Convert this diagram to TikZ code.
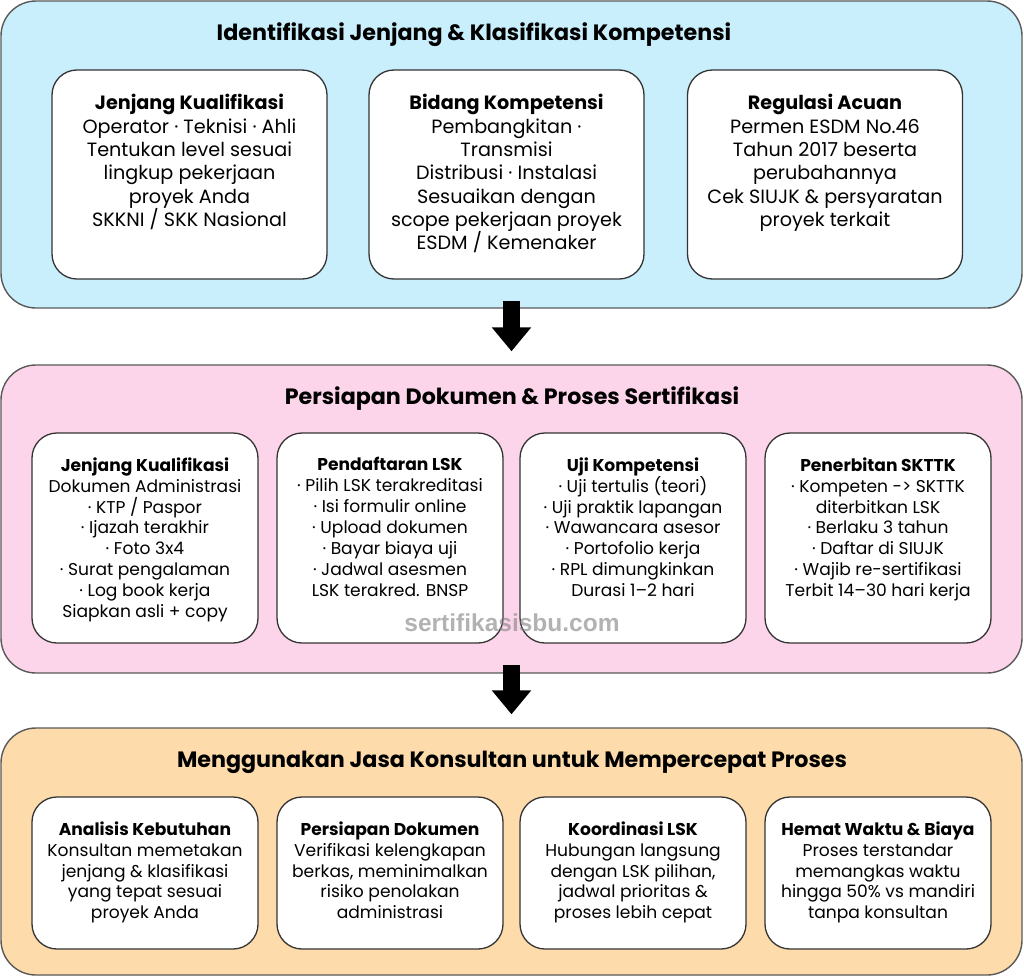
\documentclass[tikz,border=0pt]{standalone}
\usepackage{fontspec}
\setmainfont{Poppins}
\newfontfamily\wmfont{Liberation Sans}
\usetikzlibrary{positioning,arrows.meta}
\definecolor{skyfill}{HTML}{C9EEFC}
\definecolor{pinkfill}{HTML}{FDD5EA}
\definecolor{sandfill}{HTML}{FDDBAA}
\begin{document}
\begin{tikzpicture}[
    x=1pt, y=-1pt,
    panel/.style={rectangle, draw=black!65, line width=1.4pt, rounded corners=35pt, minimum width=1021pt},
    card/.style={rectangle, draw=black!80, fill=white, line width=1.3pt, rounded corners=25pt},
    cardA/.style={card, minimum width=275pt, minimum height=209pt},
    cardB/.style={card, minimum width=226pt, minimum height=210pt},
    cardC/.style={card, minimum width=226pt, minimum height=152pt},
    title/.style={inner sep=0pt, font=\fontsize{22.2}{26}\selectfont\bfseries},
    textA/.style={align=center, inner sep=0pt, font=\fontsize{19.2}{23.3}\selectfont},
    textB/.style={align=center, inner sep=0pt, font=\fontsize{17.1}{20.9}\selectfont},
    bigarrow/.style={line width=17pt, -{Triangle[width=38pt,length=24pt]}},
    wmark/.style={inner sep=0pt, text=black!50, text opacity=0.6, font=\wmfont\fontsize{24.5}{28}\selectfont\bfseries}
]
\useasboundingbox (0,0) rectangle (1024,977);

% panels
\node[panel, fill=skyfill, minimum height=307pt] (p1) at (511.5,154.5) {};
\node[panel, fill=pinkfill, minimum height=308pt] (p2) at (511.5,519) {};
\node[panel, fill=sandfill, minimum height=247pt] (p3) at (511.5,851.5) {};

\node[title] (t1) at (474,35) {Identifikasi Jenjang \& Klasifikasi Kompetensi};
\node[title] (t2) at (512,399) {Persiapan Dokumen \& Proses Sertifikasi};
\node[title] (t3) at (512,762) {Menggunakan Jasa Konsultan untuk Mempercepat Proses};

% row 1
\node[cardA] (a1) at (189.5,174.5) {};
\node[cardA] (a2) at (506.5,174.5) {};
\node[cardA] (a3) at (825,174.5) {};
\node[textA, below=25pt of a1.north] (ta1) {\textbf{Jenjang Kualifikasi}\\Operator · Teknisi · Ahli\\Tentukan level sesuai\\lingkup pekerjaan\\proyek Anda\\SKKNI / SKK Nasional};
\node[textA, below=25pt of a2.north] (ta2) {\textbf{Bidang Kompetensi}\\Pembangkitan ·\\Transmisi\\Distribusi · Instalasi\\Sesuaikan dengan\\scope pekerjaan proyek\\ESDM / Kemenaker};
\node[textA, below=25pt of a3.north] (ta3) {\textbf{Regulasi Acuan}\\Permen ESDM No.46\\Tahun 2017 beserta\\perubahannya\\Cek SIUJK \& persyaratan\\proyek terkait};

% row 2
\node[cardB] (b1) at (145,538) {};
\node[cardB] (b2) at (390,538) {};
\node[cardB] (b3) at (633,538) {};
\node[cardB] (b4) at (878,538) {};
\node[textB, below=25pt of b1.north] (tb1) {\textbf{Jenjang Kualifikasi}\\Dokumen Administrasi\\· KTP / Paspor\\· Ijazah terakhir\\· Foto 3x4\\· Surat pengalaman\\· Log book kerja\\Siapkan asli + copy};
\node[textB, below=25pt of b2.north] (tb2) {\textbf{Pendaftaran LSK}\\· Pilih LSK terakreditasi\\· Isi formulir online\\· Upload dokumen\\· Bayar biaya uji\\· Jadwal asesmen\\LSK terakred. BNSP};
\node[textB, below=25pt of b3.north] (tb3) {\textbf{Uji Kompetensi}\\· Uji tertulis (teori)\\· Uji praktik lapangan\\· Wawancara asesor\\· Portofolio kerja\\· RPL dimungkinkan\\Durasi 1–2 hari};
\node[textB, below=25pt of b4.north] (tb4) {\textbf{Penerbitan SKTTK}\\· Kompeten -> SKTTK\\diterbitkan LSK\\· Berlaku 3 tahun\\· Daftar di SIUJK\\· Wajib re-sertifikasi\\Terbit 14–30 hari kerja};

% row 3
\node[cardC] (c1) at (145,873) {};
\node[cardC] (c2) at (390,873) {};
\node[cardC] (c3) at (633,873) {};
\node[cardC] (c4) at (878,873) {};
\node[textB, below=25pt of c1.north] (tc1) {\textbf{Analisis Kebutuhan}\\Konsultan memetakan\\jenjang \& klasifikasi\\yang tepat sesuai\\proyek Anda};
\node[textB, below=25pt of c2.north] (tc2) {\textbf{Persiapan Dokumen}\\Verifikasi kelengkapan\\berkas, meminimalkan\\risiko penolakan\\administrasi};
\node[textB, below=25pt of c3.north] (tc3) {\textbf{Koordinasi LSK}\\Hubungan langsung\\dengan LSK pilihan,\\jadwal prioritas \&\\proses lebih cepat};
\node[textB, below=25pt of c4.north] (tc4) {\textbf{Hemat Waktu \& Biaya}\\Proses terstandar\\memangkas waktu\\hingga 50\% vs mandiri\\tanpa konsultan};

\node[wmark] (wm) at (512,623) {sertifikasisbu.com};

% arrows
\draw[bigarrow] ([yshift=8pt]p1.south) -- ([yshift=13pt]p2.north);
\draw[bigarrow] ([yshift=9pt]p2.south) -- ([yshift=13pt]p3.north);
\end{tikzpicture}
\end{document}
